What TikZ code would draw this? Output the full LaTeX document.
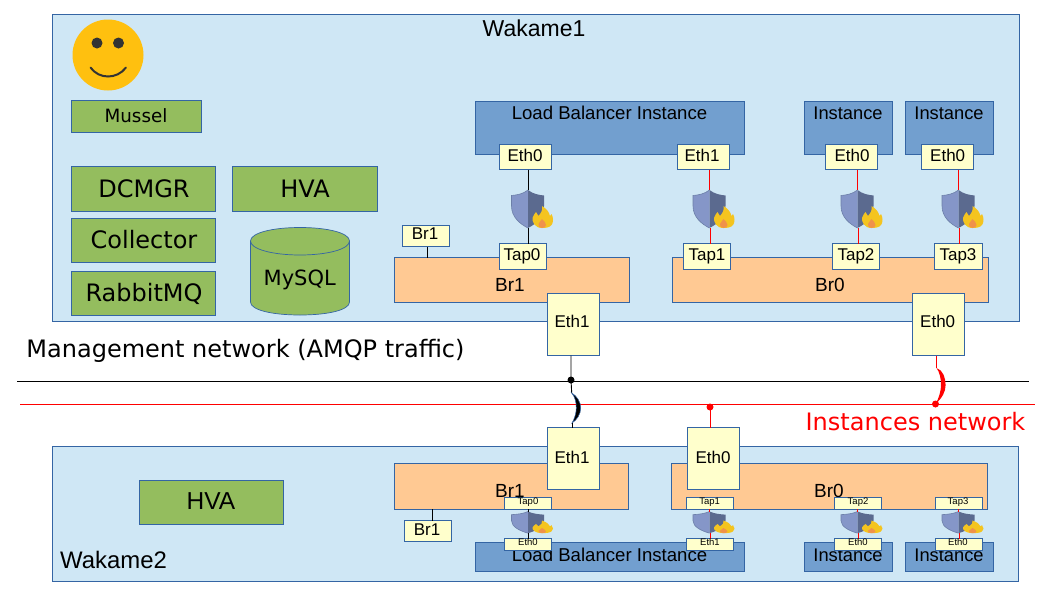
\documentclass[tikz,border=0pt]{standalone}
\usepackage{fontspec}
\setmainfont{Liberation Sans}
\newfontfamily\dv{DejaVu Sans}
\definecolor{edge}{HTML}{3465A4}
\definecolor{panel}{HTML}{CFE7F5}
\definecolor{leaf}{HTML}{94BD5E}
\definecolor{inst}{HTML}{729FCF}
\definecolor{bridge}{HTML}{FFC993}
\definecolor{port}{HTML}{FFFFCC}
\definecolor{sun}{HTML}{FFC00F}
\definecolor{faceink}{HTML}{333333}
\definecolor{shieldL}{HTML}{8596C8}
\definecolor{shieldR}{HTML}{5B6A8F}
\definecolor{shieldE}{HTML}{6C7FA8}
\definecolor{flameY}{HTML}{F4C41F}
\definecolor{flameO}{HTML}{F0924A}
\definecolor{netred}{HTML}{FF0000}
\tikzset{
  x=1pt,y=-1pt,
  boxbase/.style={draw=edge,line width=0.9pt,inner sep=0pt,outer sep=0pt,anchor=north west},
  panelbox/.style={boxbase,fill=panel},
  leafbox/.style={boxbase,fill=leaf},
  instbox/.style={boxbase,fill=inst},
  bridgebox/.style={boxbase,fill=bridge},
  portbox/.style={boxbase,fill=port},
  txt/.style={anchor=base,inner sep=0pt,outer sep=0pt,text=black},
  blackwire/.style={draw=black,line width=0.9pt},
  redwire/.style={draw=netred,line width=0.9pt},
}
\newcommand{\bx}[6]{%
  \pgfmathsetmacro{\bw}{#5-#3}\pgfmathsetmacro{\bh}{#6-#4}%
  \node[#2,minimum width=\bw pt,minimum height=\bh pt] (#1) at (#3,#4) {};}
\newcommand{\lbl}[6][black]{\node[txt,text=#1,font=#2] (#3) at (#4,#5) {#6};}
\newcommand{\fsz}[2]{\fontsize{#1}{#1}\selectfont #2}
\newcommand{\shieldat}[4]{% name, x, y, yscale
  \begin{scope}[shift={(#2,#3)},yscale=#4]
    \coordinate (#1-t) at (0,0);
    \coordinate (#1-b) at (0,38);
    \fill[shieldL] (0,0) .. controls (-5,4) and (-11,5) .. (-16.5,5.5) -- (-16.5,16) .. controls (-16.5,27) and (-8,34) .. (0,38) -- cycle;
    \fill[shieldR] (0,0) .. controls (5,4) and (11,5) .. (16,5.5) -- (16,16) .. controls (16,27) and (8,34) .. (0,38) -- cycle;
    \draw[shieldE,line width=0.6pt] (0,0) .. controls (-5,4) and (-11,5) .. (-16.5,5.5) -- (-16.5,16) .. controls (-16.5,27) and (-8,34) .. (0,38);
    \fill[flameY] (14,38) .. controls (7,38) and (4,32) .. (4.5,28) .. controls (5,25) and (7,24) .. (8,22) .. controls (9,24) and (10,25) .. (10.5,26) .. controls (13,23) and (15,20) .. (14,16) .. controls (19,19) and (21,22) .. (22,26) .. controls (23,25) and (23.5,24.5) .. (23.5,24) .. controls (25.5,27) and (25.5,33) .. (23.5,35) .. controls (21.5,37.5) and (18,38) .. (14,38) -- cycle;
    \fill[flameO] (14,38) .. controls (11,38) and (10,35.5) .. (10.5,34) .. controls (11,32) and (13,31) .. (14,29) .. controls (16,31) and (18,33) .. (18,35) .. controls (18,37) and (16,38) .. (14,38) -- cycle;
  \end{scope}}
\begin{document}
\begin{tikzpicture}
\useasboundingbox (0,0) rectangle (1058,595);
\bx{wakameA}{panelbox}{52}{14}{1019}{321}
\bx{wakameB}{panelbox}{52}{446}{1018}{581}
\coordinate (blackL) at (17,381.5); \coordinate (blackR) at (1029,381.5);
\coordinate (redL) at (20,404.5); \coordinate (redR) at (1035,404.5);
\draw[blackwire] (blackL) -- (blackR);
\draw[redwire] (redL) -- (redR);
% upper left
\fill[sun] (108,55) circle[radius=35.5];
\fill[faceink] (97,43) circle[radius=5.5] (118.5,43) circle[radius=5.5];
\draw[faceink,line width=2pt,line cap=round] (90.5,67.5) .. controls (99,79.5) and (117,79.5) .. (126,67.5);
\bx{mussel}{leafbox}{71}{100}{201.5}{132}
\bx{dcmgr}{leafbox}{71}{166}{215.5}{211}
\bx{hvaA}{leafbox}{232.5}{166}{377.5}{211}
\bx{collector}{leafbox}{71}{218.5}{215.5}{262.5}
\bx{rabbit}{leafbox}{71}{271}{215.5}{315}
\draw[edge,line width=0.7pt,fill=leaf] (250.5,241) -- (250.5,302) .. controls (250.5,310) and (272,315) .. (300,315) .. controls (328,315) and (349.5,310) .. (349.5,302) -- (349.5,241) .. controls (349.5,233) and (328,227.5) .. (300,227.5) .. controls (272,227.5) and (250.5,233) .. (250.5,241) -- cycle;
\draw[edge,line width=0.7pt] (250.5,241) .. controls (250.5,249) and (272,255) .. (300,255) .. controls (328,255) and (349.5,249) .. (349.5,241);
% instances, bridges, upper
\bx{lbA}{instbox}{475}{101}{744.5}{154}
\bx{instA}{instbox}{804.5}{101}{892.5}{154}
\bx{instB}{instbox}{905.5}{101}{993.5}{154}
\bx{brOneA}{bridgebox}{394.5}{257.5}{629.5}{302}
\bx{brZeroA}{bridgebox}{672.5}{257.5}{988.5}{302}
\bx{brTagA}{portbox}{402.5}{225.5}{449.5}{246.5}
% upper ports
\bx{ethA}{portbox}{499.5}{144.5}{551.5}{169.5}
\bx{ethB}{portbox}{677.5}{144.5}{729.5}{169.5}
\bx{ethC}{portbox}{825.5}{144.5}{877.5}{169.5}
\bx{ethD}{portbox}{921.5}{144.5}{973.5}{169.5}
\bx{tapA}{portbox}{499.5}{243.5}{546.5}{269.5}
\bx{tapB}{portbox}{683.5}{243.5}{730.5}{269.5}
\bx{tapC}{portbox}{832.5}{243.5}{879.5}{269.5}
\bx{tapD}{portbox}{934.5}{243.5}{982.5}{269.5}
\bx{upOne}{portbox}{547.5}{293.5}{599.5}{355.5}
\bx{upZero}{portbox}{912.5}{293.5}{964.5}{355.5}
% upper wires
\shieldat{shA}{528}{190}{1}
\shieldat{shB}{709.5}{190}{1}
\shieldat{shC}{857.5}{190}{1}
\shieldat{shD}{958.5}{190}{1}
\draw[blackwire] (shA-t |- ethA.south) -- (shA-t);
\draw[blackwire] (shA-b) -- (shA-b |- tapA.north);
\draw[redwire] (shB-t |- ethB.south) -- (shB-t);
\draw[redwire] ([xshift=1pt]shB-b) -- ([xshift=1pt]shB-b |- tapB.north);
\draw[redwire] (shC-t |- ethC.south) -- (shC-t);
\draw[redwire] ([xshift=1pt]shC-b) -- ([xshift=1pt]shC-b |- tapC.north);
\draw[redwire] (shD-t |- ethD.south) -- (shD-t);
\draw[redwire] ([xshift=1pt]shD-b) -- ([xshift=1pt]shD-b |- tapD.north);
\draw[blackwire] ([xshift=1.5pt]brTagA.south) -- ([xshift=1.5pt]brTagA.south |- brOneA.north);
% crossing wires
\coordinate (dotBlack) at (571,380);
\coordinate (hopBlackT) at (571.7,393);
\coordinate (hopBlackB) at (572,423);
\coordinate (dotRedA) at (710,407);
\coordinate (dotRedB) at (935.5,404);
\coordinate (hopRedT) at (936.5,368);
\draw[blackwire] (upOne.south -| dotBlack) -- (dotBlack) -- (hopBlackT);
\fill[black] (dotBlack) circle[radius=3.5];
\draw[edge,line width=0.5pt,fill=black] (hopBlackT) .. controls (577,396) and (580.7,402) .. (580.7,408) .. controls (580.7,414) and (577,420) .. (hopBlackB) .. controls (574.5,419) and (576.3,413) .. (576.3,408) .. controls (576.3,402) and (575,397) .. (hopBlackT) -- cycle;
\draw[redwire] (upZero.south -| hopRedT) -- (hopRedT);
\fill[netred] (hopRedT) .. controls (943,370) and (945.6,378) .. (945.6,385) .. controls (945.6,392) and (942,398) .. (dotRedB) .. controls (939,398) and (941,391) .. (941,385) .. controls (941,378) and (939.5,372) .. (hopRedT) -- cycle;
\fill[netred] (dotRedB) circle[radius=3.5];
% lower containers
\bx{lbB}{instbox}{475}{542}{744.5}{571}
\bx{instC}{instbox}{804.5}{542}{892.5}{571}
\bx{instD}{instbox}{905.5}{542}{993.5}{571}
\bx{brOneB}{bridgebox}{394.5}{463.5}{628.5}{509}
\bx{brZeroB}{bridgebox}{671.5}{463.5}{987.5}{509}
\bx{brTagB}{portbox}{404.5}{520.5}{451.5}{541}
\bx{hvaB}{leafbox}{139.5}{480.5}{283.5}{524}
\bx{lowOne}{portbox}{547.5}{427.5}{599.5}{489.5}
\bx{lowZero}{portbox}{687.5}{427.5}{739.5}{489.5}
\draw[blackwire] (hopBlackB) -- (lowOne.north -| hopBlackB);
\draw[redwire] (dotRedA) -- (lowZero.north -| dotRedA);
\fill[netred] (dotRedA) circle[radius=3.5];
\draw[blackwire] ([xshift=4.5pt]brTagB.north) -- ([xshift=4.5pt]brTagB.north |- brOneB.south);
% labels under the small ports
\lbl{\fsz{19}{}}{tBrOneB}{510}{497}{Br1}
\lbl{\fsz{19}{}}{tBrZeroB}{829}{497}{Br0}
\lbl{\fsz{18.6}{}}{tLbB}{609.5}{561}{Load Balancer Instance}
\lbl{\fsz{18.3}{}}{tInstC}{848}{561}{Instance}
\lbl{\fsz{18.3}{}}{tInstD}{949}{561}{Instance}
% lower shields
\shieldat{shE}{528}{511.5}{0.57}
\shieldat{shF}{709.5}{511.5}{0.57}
\shieldat{shG}{857.5}{511.5}{0.57}
\shieldat{shH}{958.5}{511.5}{0.57}
\bx{tapE}{portbox}{504.5}{497.5}{551.5}{509}
\bx{tapF}{portbox}{686.5}{497.5}{733.5}{509}
\bx{tapG}{portbox}{834.5}{497.5}{881.5}{509}
\bx{tapH}{portbox}{935.5}{497.5}{982.5}{509}
\bx{ethE}{portbox}{504.5}{538.5}{551.5}{550}
\bx{ethF}{portbox}{686.5}{538.5}{733.5}{550}
\bx{ethG}{portbox}{834.5}{538.5}{881.5}{550}
\bx{ethH}{portbox}{935.5}{538.5}{982.5}{550}
\draw[blackwire] (shE-t |- tapE.south) -- (shE-t);
\draw[blackwire] (shE-b) -- (shE-b |- ethE.north);
\draw[redwire] (shF-t |- tapF.south) -- (shF-t);
\draw[redwire] ([xshift=1pt]shF-b) -- ([xshift=1pt]shF-b |- ethF.north);
\draw[redwire] (shG-t |- tapG.south) -- (shG-t);
\draw[redwire] ([xshift=1pt]shG-b) -- ([xshift=1pt]shG-b |- ethG.north);
\draw[redwire] (shH-t |- tapH.south) -- (shH-t);
\draw[redwire] ([xshift=1pt]shH-b) -- ([xshift=1pt]shH-b |- ethH.north);
% text
\lbl{\fsz{23}{}}{tWakA}{534}{36.7}{Wakame1}
\lbl{\fsz{23.9}{}}{tWakB}{113.5}{568}{Wakame2}
\lbl{\dv\fsz{18.3}{}}{tMussel}{136}{122}{Mussel}
\lbl{\dv\fsz{24}{}}{tDcmgr}{144}{197.5}{DCMGR}
\lbl{\dv\fsz{24}{}}{tHvaA}{305}{197.5}{HVA}
\lbl{\dv\fsz{24}{}}{tColl}{144}{248.5}{Collector}
\lbl{\dv\fsz{24}{}}{tRabbit}{144}{301}{RabbitMQ}
\lbl{\dv\fsz{21}{}}{tMysql}{299.7}{285}{MySQL}
\lbl{\fsz{24.5}{}}{tHvaB}{211}{509.5}{HVA}
\lbl{\fsz{18.6}{}}{tLbA}{609.5}{119}{Load Balancer Instance}
\lbl{\fsz{18.3}{}}{tInstA}{848}{119}{Instance}
\lbl{\fsz{18.3}{}}{tInstB}{949}{119}{Instance}
\lbl{\fsz{17}{}}{tEthA}{525}{161}{Eth0}
\lbl{\fsz{17}{}}{tEthB}{702}{161}{Eth1}
\lbl{\fsz{17}{}}{tEthC}{852}{161}{Eth0}
\lbl{\fsz{17}{}}{tEthD}{947.7}{161}{Eth0}
\lbl{\fsz{17}{}}{tTapA}{522}{260}{Tap0}
\lbl{\fsz{17}{}}{tTapB}{707}{260}{Tap1}
\lbl{\fsz{17}{}}{tTapC}{856}{260}{Tap2}
\lbl{\fsz{17}{}}{tTapD}{958}{260}{Tap3}
\lbl{\fsz{17}{}}{tBrTagA}{425}{239}{Br1}
\lbl{\fsz{19}{}}{tBrOneA}{510}{291}{Br1}
\lbl{\fsz{19}{}}{tBrZeroA}{830}{291}{Br0}
\lbl{\fsz{17}{}}{tUpOne}{572}{327}{Eth1}
\lbl{\fsz{17}{}}{tUpZero}{937.7}{327}{Eth0}
\lbl{\fsz{17}{}}{tLowOne}{572}{463}{Eth1}
\lbl{\fsz{17}{}}{tLowZero}{713}{463}{Eth0}
\lbl{\fsz{17}{}}{tBrTagB}{427}{535}{Br1}
\lbl{\fsz{9.5}{}}{tTapE}{528}{504.7}{Tap0}
\lbl{\fsz{9.5}{}}{tTapF}{709.7}{504.7}{Tap1}
\lbl{\fsz{9.5}{}}{tTapG}{858}{504.7}{Tap2}
\lbl{\fsz{9.5}{}}{tTapH}{958}{504.7}{Tap3}
\lbl{\fsz{9.5}{}}{tEthE}{528}{545.7}{Eth0}
\lbl{\fsz{9.5}{}}{tEthF}{710}{545.7}{Eth1}
\lbl{\fsz{9.5}{}}{tEthG}{858}{545.7}{Eth0}
\lbl{\fsz{9.5}{}}{tEthH}{958}{545.7}{Eth0}
\lbl{\dv\fsz{24}{}}{tMgmt}{245.5}{357.3}{Management network (AMQP traffic)}
\lbl[netred]{\dv\fsz{24}{}}{tInstNet}{915.5}{430.7}{Instances network}
\end{tikzpicture}
\end{document}
